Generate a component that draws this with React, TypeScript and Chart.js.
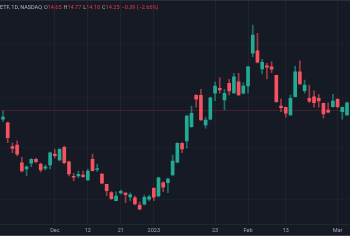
import React, { useEffect, useRef } from 'react';
import { Chart, registerables } from 'chart.js';

Chart.register(...registerables);

const dates = [
  '2022-11-15', '2022-11-16', '2022-11-17', '2022-11-18', '2022-11-21', '2022-11-22', '2022-11-23', '2022-11-25', '2022-11-28', '2022-11-29', '2022-11-30',
  '2022-12-01', '2022-12-02', '2022-12-05', '2022-12-06', '2022-12-07', '2022-12-08', '2022-12-09', '2022-12-12', '2022-12-13', '2022-12-14', '2022-12-15',
  '2022-12-16', '2022-12-19', '2022-12-20', '2022-12-21', '2022-12-22', '2022-12-23', '2022-12-27', '2022-12-28', '2022-12-29', '2022-12-30',
  '2023-01-03', '2023-01-04', '2023-01-05', '2023-01-06', '2023-01-09', '2023-01-10', '2023-01-11', '2023-01-12', '2023-01-13', '2023-01-17',
  '2023-01-18', '2023-01-19', '2023-01-20', '2023-01-23', '2023-01-24', '2023-01-25', '2023-01-26', '2023-01-27', '2023-01-30', '2023-01-31',
  '2023-02-01', '2023-02-02', '2023-02-03', '2023-02-06', '2023-02-07', '2023-02-08', '2023-02-09', '2023-02-10', '2023-02-13', '2023-02-14',
  '2023-02-15', '2023-02-16', '2023-02-17', '2023-02-21', '2023-02-22', '2023-02-23', '2023-02-24', '2023-02-27', '2023-02-28',
  '2023-03-01', '2023-03-02', '2023-03-03',
];

const opens = [
  13.88, 13.74, 12.79, 12.85, 12.14, 11.89, 12.12, 12.28, 12.09, 11.92, 12.05,
  12.49, 12.25, 12.76, 12.18, 11.60, 11.61, 11.65, 11.45, 12.28, 11.87, 11.69,
  11.28, 10.95, 10.62, 10.93, 10.93, 10.77, 10.74, 10.45, 10.48, 10.68,
  11.12, 10.81, 11.34, 11.34, 11.65, 12.16, 12.92, 13.01, 13.58, 14.84,
  14.84, 13.65, 13.88, 14.92, 15.12, 14.65, 15.32, 14.93, 15.38, 14.92,
  15.21, 16.52, 16.62, 15.89, 16.02, 15.98, 15.64, 14.41, 14.36, 14.05,
  14.78, 15.78, 15.02, 14.72, 14.78, 14.72, 14.52, 14.25, 14.38,
  14.68, 14.18, 14.05,
];

const highs = [
  14.22, 13.77, 12.94, 13.02, 12.36, 12.01, 12.31, 12.33, 12.13, 12.05, 12.57,
  12.68, 12.71, 12.81, 12.21, 11.72, 11.81, 11.81, 11.89, 12.49, 12.09, 11.71,
  11.29, 10.99, 10.98, 11.05, 10.95, 10.94, 10.81, 10.58, 10.85, 10.85,
  11.15, 11.57, 11.39, 11.53, 12.45, 12.95, 12.95, 14.05, 14.41, 14.87,
  15.08, 13.97, 14.77, 15.38, 15.54, 15.08, 15.48, 15.72, 15.72, 15.34,
  16.01, 17.65, 17.32, 16.28, 16.12, 16.18, 15.65, 14.69, 14.37, 14.85,
  16.01, 16.22, 15.45, 15.25, 15.02, 14.88, 14.53, 14.54, 14.88,
  14.71, 14.37, 14.57,
];

const lows = [
  13.78, 12.94, 12.54, 12.41, 11.77, 11.62, 11.98, 12.13, 11.77, 11.85, 11.89,
  12.33, 12.21, 12.09, 11.61, 11.42, 11.53, 11.55, 11.43, 11.81, 11.78, 11.29,
  10.82, 10.67, 10.61, 10.89, 10.54, 10.62, 10.45, 10.26, 10.45, 10.61,
  10.62, 10.77, 10.98, 10.94, 11.63, 12.13, 12.54, 12.72, 13.55, 14.36,
  13.83, 13.52, 13.85, 14.62, 14.92, 14.25, 14.85, 14.91, 14.83, 14.89,
  14.92, 16.38, 16.13, 15.69, 15.49, 15.74, 14.55, 14.18, 13.96, 14.03,
  14.77, 15.27, 14.92, 14.54, 14.36, 14.36, 13.92, 14.13, 14.36,
  14.33, 13.88, 14.03,
];

const closes = [
  13.97, 13.14, 12.71, 12.48, 11.81, 11.98, 12.28, 12.18, 11.85, 11.98, 12.54,
  12.42, 12.68, 12.14, 11.69, 11.56, 11.68, 11.58, 11.81, 11.82, 11.91, 11.32,
  11.02, 10.70, 10.81, 11.00, 10.86, 10.86, 10.49, 10.28, 10.76, 10.78,
  10.76, 11.54, 11.16, 11.49, 12.21, 12.92, 12.69, 14.01, 14.12, 14.68,
  13.85, 13.85, 14.74, 15.21, 15.05, 14.92, 15.01, 15.58, 14.85, 15.21,
  15.98, 17.25, 16.16, 16.16, 15.96, 15.88, 14.58, 14.34, 14.12, 14.72,
  15.78, 15.29, 15.25, 14.60, 14.54, 14.61, 14.09, 14.16, 14.61,
  14.38, 14.36, 14.54,
];

const tickDates = ['2022-12-01', '2022-12-12', '2022-12-21', '2023-01-03', '2023-01-23', '2023-02-01', '2023-02-13', '2023-03-01'];
const tickTexts = ['Dec', '12', '21', '2023', '23', 'Feb', '13', 'Mar'];
const gridPrices = [16.85, 14.77, 12.73, 10.65];
const lastClose = 14.25;

const headerSymbol = 'ETF, 1D, NASDAQ';
const headerLabels = ['O', 'H', 'L', 'C'];
const headerValues = ['14.65', '14.77', '14.10', '14.25'];
const headerChange = '−0.39 (−2.66%)';

export default function App() {
  const ref = useRef<HTMLCanvasElement>(null);

  useEffect(() => {
    if (!ref.current) return;
    const UP = '#22ab94';
    const DOWN = '#f7525f';
    const bodyColors = opens.map((o, i) => (closes[i] >= o ? UP : DOWN));
    const wickColors = opens.map((o, i) => (closes[i] >= o ? 'rgba(34,171,148,0.6)' : 'rgba(247,82,95,0.6)'));

    const priceLine = {
      id: 'priceLine',
      beforeDatasetsDraw(chart: any) {
        const ctx = chart.ctx;
        const y = Math.round(chart.scales.y.getPixelForValue(lastClose)) + 0.5;
        const { left, right } = chart.chartArea;
        ctx.save();
        ctx.strokeStyle = 'rgba(242,54,69,0.2)';
        ctx.lineWidth = 1;
        ctx.beginPath();
        ctx.moveTo(left, y);
        ctx.lineTo(right, y);
        ctx.stroke();
        ctx.restore();
      },
    };

    const chart = new Chart(ref.current, {
      type: 'bar',
      data: {
        labels: dates,
        datasets: [
          {
            label: 'body',
            data: opens.map((o, i) => [o, closes[i]]) as any,
            backgroundColor: bodyColors,
            barThickness: 3,
            minBarLength: 1,
            grouped: false,
            borderWidth: 0,
          } as any,
          {
            label: 'wick',
            data: lows.map((l, i) => [l, highs[i]]) as any,
            backgroundColor: wickColors,
            barThickness: 1,
            grouped: false,
            borderWidth: 0,
          } as any,
        ],
      },
      options: {
        animation: false,
        responsive: false,
        maintainAspectRatio: false,
        layout: { padding: 0 },
        plugins: { legend: { display: false }, tooltip: { enabled: false } },
        scales: {
          x: {
            offset: true,
            border: { display: true, color: '#222632' },
            grid: {
              offset: false,
              drawTicks: false,
              color: (c: any) => (c.tick && tickDates.includes(dates[c.tick.value]) ? '#1f2330' : 'rgba(0,0,0,0)'),
            },
            ticks: {
              autoSkip: false,
              maxRotation: 0,
              padding: 3,
              color: '#a3a6af',
              font: { size: 5.5, family: 'Roboto, "Liberation Sans", sans-serif' },
              callback: (value: any) => {
                const k = tickDates.indexOf(dates[value as number]);
                return k >= 0 ? tickTexts[k] : '';
              },
            },
            afterFit: (s: any) => {
              s.height = 11;
            },
          },
          y: {
            min: 9.69,
            max: 18.61,
            border: { display: false },
            grid: { color: '#1b1f2a', drawTicks: false },
            ticks: { display: false },
            afterBuildTicks: (s: any) => {
              s.ticks = gridPrices.map((v) => ({ value: v }));
            },
            afterFit: (s: any) => {
              s.width = 0;
            },
          },
        },
      },
      plugins: [priceLine],
    });
    return () => chart.destroy();
  }, []);

  const font = 'Roboto, "Liberation Sans", sans-serif';
  return (
    <div style={{ position: 'absolute', left: 0, top: 0, width: 350, height: 250, background: '#ffffff' }}>
      <div
        style={{
          position: 'relative',
          width: 350,
          height: 236,
          boxSizing: 'border-box',
          background: '#161a25',
          borderTop: '1px solid #2a2e39',
          borderBottom: '1px solid #434651',
        }}
      >
        <canvas ref={ref} width={350} height={234} style={{ display: 'block', width: 350, height: 234 }} />
        <div
          style={{
            position: 'absolute',
            left: 0,
            top: 2.5,
            fontFamily: font,
            fontSize: '5.5px',
            lineHeight: '6px',
            whiteSpace: 'nowrap',
            color: '#a3a6af',
          }}
        >
          <span style={{ color: '#b2b5be' }}>{headerSymbol}</span>
          {headerLabels.map((lab, i) => (
            <span key={lab} style={{ marginLeft: 2 }}>
              {lab}
              <span style={{ color: '#f23645' }}>{headerValues[i]}</span>
            </span>
          ))}
          <span style={{ marginLeft: 2, color: '#f23645' }}>{headerChange}</span>
        </div>
      </div>
    </div>
  );
}
